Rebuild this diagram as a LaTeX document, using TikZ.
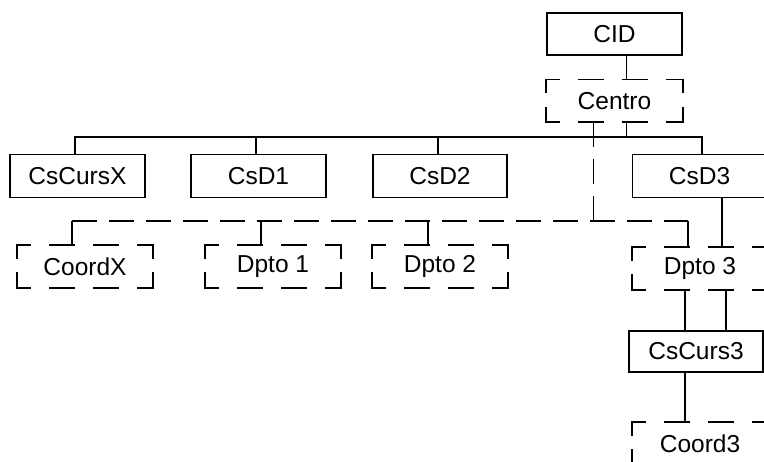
\documentclass[tikz,border=0pt]{standalone}
\usepackage{fontspec}
\setmainfont{Liberation Sans}
\begin{document}
\begin{tikzpicture}[x=1pt,y=-1pt,
  line width=1.8pt,
  lbl/.style={font=\fontsize{24.5}{29}\selectfont, inner sep=0pt,
    minimum width=134pt, minimum height=41pt},
  solidbox/.style={lbl, draw},
  openbox/.style={lbl},
  dh/.style={dash pattern=on 24pt off 20pt, dash phase=11pt, line cap=rect},
  dv/.style={dash pattern=on 26pt off 15pt, dash phase=13pt, line cap=rect},
  dline/.style={dash pattern=on 25pt off 12pt}]
\useasboundingbox (0,0) rectangle (764,462);
\clip (0,0) rectangle (764,462);

% four broken edges around a node
\newcommand\brokenframe[1]{%
  \draw[dh] (#1.north west) -- (#1.north east);
  \draw[dh] (#1.south west) -- (#1.south east);
  \draw[dv] (#1.north west) -- (#1.south west);
  \draw[dv] (#1.north east) -- (#1.south east);}

% nodes
\node[solidbox, minimum width=135pt, minimum height=42pt] (CID) at (614.5,34) {CID};
\node[openbox, minimum width=135pt] (Centro) at (614.5,101) {Centro};
\node[solidbox, minimum width=135pt, minimum height=43pt] (CsCursX) at (77.5,176) {CsCursX};
\node[solidbox, minimum width=135pt, minimum height=43pt] (CsD1) at (258.5,176) {CsD1};
\node[solidbox, minimum height=43pt] (CsD2) at (440,176) {CsD2};
\node[solidbox, minimum height=43pt] (CsD3) at (699.5,176) {CsD3};
\node[openbox] (CoordX) at (85,266.5) {CoordX};
\node[openbox] (Dpto1) at (273,266.5) {Dpto 1};
\node[openbox] (Dpto2) at (440,266.5) {Dpto 2};
\node[openbox] (Dpto3) at (700,268.5) {Dpto 3};
\node[solidbox] (CsCurs3) at (696,351.5) {CsCurs3};
\node[openbox] (Coord3) at (700,443.5) {Coord3};

\brokenframe{Centro}
\brokenframe{CoordX}
\brokenframe{Dpto1}
\brokenframe{Dpto2}
\brokenframe{Dpto3}
\brokenframe{Coord3}

% levels of the two buses
\coordinate (bus) at (0,137);
\coordinate (dbus) at (0,221);

% CID to Centro
\draw ([xshift=12pt]CID.south) -- ([xshift=12pt]Centro.north);

% solid bus to the CsD row
\draw ([xshift=12pt]Centro.south) -- ([xshift=12pt]Centro.south |- bus);
\draw ([xshift=-2.5pt]CsCursX.north) |- ([xshift=2.5pt]CsD3.north |- bus)
      -- ([xshift=2.5pt]CsD3.north);
\draw ([xshift=-2.5pt]CsD1.north) -- ([xshift=-2.5pt]CsD1.north |- bus);
\draw ([xshift=-2pt]CsD2.north) -- ([xshift=-2pt]CsD2.north |- bus);

% broken bus to the lower row
\draw[dline] ([xshift=-21pt]Centro.south) -- ([xshift=-21pt]Centro.south |- dbus);
\draw[dline] ([xshift=-13pt]CoordX.north |- dbus) -- ([xshift=-12pt]Dpto3.north |- dbus);
\draw ([xshift=-13pt]CoordX.north) -- ([xshift=-13pt]CoordX.north |- dbus);
\draw ([xshift=-12pt]Dpto1.north) -- ([xshift=-12pt]Dpto1.north |- dbus);
\draw ([xshift=-12pt]Dpto2.north) -- ([xshift=-12pt]Dpto2.north |- dbus);
\draw ([xshift=-12pt]Dpto3.north) -- ([xshift=-12pt]Dpto3.north |- dbus);

% CsD3 branch
\draw ([xshift=22pt]Dpto3.north) -- ([xshift=22pt]Dpto3.north |- CsD3.south);
\draw ([xshift=-15pt]Dpto3.south) -- ([xshift=-15pt]Dpto3.south |- CsCurs3.north);
\draw ([xshift=26pt]Dpto3.south) -- ([xshift=26pt]Dpto3.south |- CsCurs3.north);
\draw ([xshift=-11pt]CsCurs3.south) -- ([xshift=-11pt]CsCurs3.south |- Coord3.north);
\end{tikzpicture}
\end{document}
